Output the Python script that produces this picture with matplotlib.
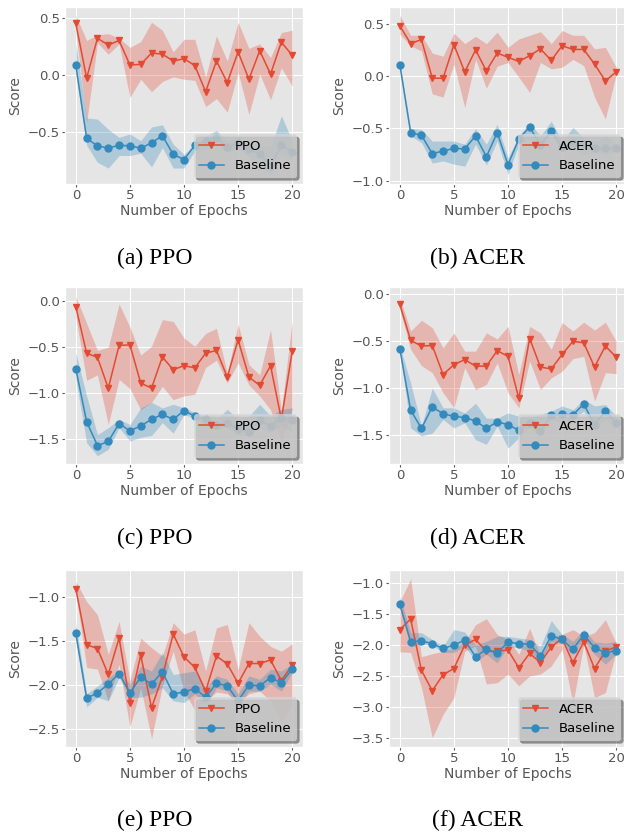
import matplotlib
matplotlib.use('Agg')
import matplotlib.pyplot as plt

plt.style.use('ggplot')

epochs = list(range(21))

# (a) PPO
a_ppo = [0.45, -0.03, 0.32, 0.26, 0.30, 0.085, 0.09, 0.19, 0.18, 0.12, 0.14, 0.08, -0.15, 0.12, -0.07, 0.20, -0.04, 0.21, 0.005, 0.285, 0.17]
a_ppo_hi = [0.52, 0.30, 0.35, 0.36, 0.32, 0.24, 0.29, 0.46, 0.39, 0.20, 0.31, 0.31, -0.02, 0.34, 0.12, 0.46, 0.23, 0.27, 0.15, 0.37, 0.39]
a_ppo_lo = [0.38, -0.42, 0.28, 0.18, 0.27, -0.20, -0.04, -0.15, -0.06, -0.02, -0.04, -0.05, -0.28, -0.21, -0.33, 0.02, -0.35, 0.005, -0.22, 0.06, -0.10]
a_base = [0.085, -0.56, -0.625, -0.645, -0.62, -0.625, -0.645, -0.60, -0.535, -0.70, -0.745, -0.62, -0.58, -0.555, -0.635, -0.60, -0.655, -0.695, -0.80, -0.62, -0.68]
a_base_hi = [0.27, -0.38, -0.39, -0.48, -0.55, -0.52, -0.58, -0.46, -0.44, -0.61, -0.70, -0.61, -0.54, -0.49, -0.58, -0.55, -0.60, -0.61, -0.64, -0.36, -0.58]
a_base_lo = [0.0, -0.62, -0.77, -0.82, -0.71, -0.71, -0.69, -0.81, -0.64, -0.82, -0.82, -0.67, -0.66, -0.61, -0.69, -0.64, -0.73, -0.79, -0.89, -0.70, -0.76]

# (b) ACER
b_acer = [0.48, 0.31, 0.35, -0.02, -0.02, 0.30, 0.04, 0.25, 0.05, 0.22, 0.18, 0.14, 0.195, 0.26, 0.15, 0.29, 0.255, 0.255, 0.115, -0.045, 0.04]
b_acer_hi = [0.58, 0.39, 0.39, 0.22, 0.19, 0.41, 0.31, 0.38, 0.31, 0.42, 0.275, 0.355, 0.39, 0.425, 0.31, 0.435, 0.39, 0.39, 0.26, 0.275, 0.085]
b_acer_lo = [0.40, 0.29, 0.24, -0.17, -0.20, 0.115, -0.30, 0.16, -0.115, 0.095, 0.13, -0.01, -0.155, 0.13, 0.07, 0.085, 0.16, 0.10, -0.20, -0.41, 0.02]
b_base = [0.11, -0.54, -0.565, -0.74, -0.715, -0.69, -0.695, -0.57, -0.77, -0.54, -0.845, -0.60, -0.485, -0.66, -0.52, -0.68, -0.64, -0.65, -0.69, -0.69, -0.69]
b_base_hi = [0.13, -0.50, -0.51, -0.62, -0.62, -0.62, -0.65, -0.50, -0.65, -0.46, -0.78, -0.57, -0.45, -0.57, -0.43, -0.62, -0.49, -0.59, -0.62, -0.57, -0.65]
b_base_lo = [0.09, -0.57, -0.635, -0.83, -0.81, -0.84, -0.86, -0.65, -0.85, -0.62, -0.94, -0.65, -0.60, -0.715, -0.555, -0.715, -0.68, -0.75, -0.73, -0.75, -0.715]

# (c) PPO
c_ppo = [-0.06, -0.565, -0.61, -0.945, -0.48, -0.475, -0.89, -0.945, -0.605, -0.745, -0.70, -0.725, -0.565, -0.535, -0.825, -0.42, -0.825, -0.915, -0.70, -1.285, -0.545]
c_ppo_hi = [0.05, -0.24, -0.535, -0.50, -0.03, -0.28, -0.585, -0.49, -0.20, -0.22, -0.40, -0.49, -0.35, -0.295, -0.78, -0.25, -0.69, -0.80, -0.31, -1.19, -0.21]
c_ppo_lo = [-0.17, -0.86, -0.80, -1.34, -0.85, -0.95, -1.18, -1.10, -0.925, -1.07, -1.03, -1.01, -0.72, -0.64, -0.89, -0.67, -0.91, -1.03, -1.18, -1.54, -1.18]
c_base = [-0.735, -1.31, -1.57, -1.525, -1.33, -1.41, -1.355, -1.285, -1.23, -1.285, -1.19, -1.25, -1.285, -1.345, -1.32, -1.39, -1.42, -1.295, -1.355, -1.265, -1.295]
c_base_hi = [-0.56, -1.03, -1.45, -1.375, -1.285, -1.34, -1.16, -1.10, -1.16, -1.12, -1.16, -1.21, -1.25, -1.285, -1.175, -1.285, -1.25, -1.12, -1.25, -1.175, -1.16]
c_base_lo = [-0.85, -1.54, -1.68, -1.61, -1.375, -1.52, -1.48, -1.46, -1.32, -1.435, -1.23, -1.275, -1.355, -1.39, -1.375, -1.46, -1.46, -1.375, -1.43, -1.355, -1.43]

# (d) ACER
d_acer = [-0.105, -0.49, -0.55, -0.545, -0.855, -0.75, -0.695, -0.765, -0.765, -0.60, -0.66, -1.11, -0.47, -0.775, -0.795, -0.64, -0.50, -0.515, -0.775, -0.55, -0.67]
d_acer_hi = [-0.035, -0.39, -0.275, -0.355, -0.57, -0.41, -0.605, -0.605, -0.41, -0.475, -0.34, -0.855, -0.34, -0.41, -0.585, -0.30, -0.39, -0.295, -0.38, -0.295, -0.50]
d_acer_lo = [-0.16, -0.585, -0.76, -0.835, -1.05, -1.21, -0.78, -1.015, -0.96, -0.73, -1.05, -1.21, -0.71, -1.015, -0.89, -0.82, -0.685, -0.66, -1.14, -0.835, -0.845]
d_base = [-0.58, -1.235, -1.43, -1.20, -1.275, -1.30, -1.315, -1.35, -1.43, -1.36, -1.39, -1.45, -1.37, -1.46, -1.29, -1.28, -1.285, -1.17, -1.39, -1.245, -1.37]
d_base_hi = [-0.55, -0.945, -1.405, -1.00, -1.21, -1.21, -1.265, -1.16, -1.32, -1.32, -1.265, -1.30, -1.32, -1.28, -1.245, -1.19, -1.23, -1.12, -1.19, -1.175, -1.30]
d_base_lo = [-0.61, -1.425, -1.51, -1.48, -1.335, -1.425, -1.37, -1.55, -1.60, -1.405, -1.64, -1.53, -1.42, -1.51, -1.335, -1.37, -1.335, -1.245, -1.44, -1.335, -1.44]

# (e) PPO
e_ppo = [-0.905, -1.54, -1.585, -1.88, -1.465, -2.205, -1.66, -2.26, -1.905, -1.42, -1.68, -1.80, -2.07, -1.67, -1.76, -1.98, -1.755, -1.755, -1.715, -1.95, -1.775]
e_ppo_hi = [-0.82, -1.05, -1.20, -1.65, -1.275, -1.95, -1.465, -1.575, -1.67, -1.29, -1.42, -1.37, -1.84, -1.35, -1.31, -1.82, -1.29, -1.445, -1.56, -1.615, -1.53]
e_ppo_lo = [-0.94, -1.80, -1.82, -2.18, -1.765, -2.48, -2.03, -2.61, -2.01, -1.615, -2.07, -2.285, -2.18, -2.08, -2.10, -2.20, -2.10, -2.07, -2.18, -2.42, -2.22]
e_base = [-1.41, -2.15, -2.09, -1.99, -1.87, -2.09, -1.91, -1.99, -1.85, -2.10, -2.08, -2.04, -2.14, -1.98, -2.01, -2.18, -2.00, -2.01, -1.915, -1.975, -1.82]
e_base_hi = [-1.29, -2.10, -2.01, -1.915, -1.84, -1.99, -1.785, -1.84, -1.63, -1.88, -1.86, -1.84, -2.03, -1.895, -1.935, -2.10, -1.895, -1.935, -1.82, -1.84, -1.765]
e_base_lo = [-1.50, -2.25, -2.14, -2.18, -1.915, -2.14, -2.14, -2.10, -2.03, -2.18, -2.20, -2.10, -2.24, -2.03, -2.07, -2.24, -2.07, -2.07, -1.99, -2.07, -1.86]

# (f) ACER
f_acer = [-1.75, -1.58, -2.41, -2.74, -2.48, -2.38, -2.00, -1.91, -2.10, -2.10, -2.08, -2.37, -2.135, -2.285, -2.03, -1.895, -2.285, -1.95, -2.38, -2.10, -2.03]
f_acer_hi = [-1.30, -0.93, -2.19, -2.14, -2.10, -2.05, -1.95, -1.67, -1.575, -1.83, -1.91, -2.15, -1.73, -2.18, -1.86, -1.83, -1.75, -1.86, -1.80, -1.59, -1.97]
f_acer_lo = [-2.11, -2.12, -2.69, -3.50, -3.12, -2.85, -2.10, -2.02, -2.63, -2.61, -2.47, -2.66, -2.50, -2.47, -2.34, -2.07, -2.95, -1.99, -2.85, -2.77, -2.10]
f_base = [-1.34, -1.95, -1.93, -1.98, -2.055, -2.00, -1.92, -2.19, -2.07, -2.135, -1.95, -1.98, -1.985, -2.18, -1.85, -1.91, -2.07, -1.83, -2.045, -2.125, -2.09]
f_base_hi = [-1.21, -1.80, -1.80, -1.91, -2.02, -1.75, -1.79, -1.995, -1.94, -1.86, -1.86, -1.885, -1.91, -2.02, -1.605, -1.83, -1.94, -1.75, -1.95, -1.97, -1.94]
f_base_lo = [-1.40, -2.03, -1.99, -2.00, -2.12, -2.12, -2.02, -2.26, -2.15, -2.29, -2.02, -2.045, -2.10, -2.26, -1.95, -1.97, -2.15, -1.91, -2.15, -2.31, -2.15]

panels = [
    ('(a) PPO', 'PPO', a_ppo, a_ppo_lo, a_ppo_hi, a_base, a_base_lo, a_base_hi),
    ('(b) ACER', 'ACER', b_acer, b_acer_lo, b_acer_hi, b_base, b_base_lo, b_base_hi),
    ('(c) PPO', 'PPO', c_ppo, c_ppo_lo, c_ppo_hi, c_base, c_base_lo, c_base_hi),
    ('(d) ACER', 'ACER', d_acer, d_acer_lo, d_acer_hi, d_base, d_base_lo, d_base_hi),
    ('(e) PPO', 'PPO', e_ppo, e_ppo_lo, e_ppo_hi, e_base, e_base_lo, e_base_hi),
    ('(f) ACER', 'ACER', f_acer, f_acer_lo, f_acer_hi, f_base, f_base_lo, f_base_hi),
]
ylims = [(-0.96, 0.594), (-1.03, 0.66), (-1.77, 0.155), (-1.81, 0.08), (-2.706, -0.69), (-3.65, -0.786)]

W, H = 624, 836
fig = plt.figure(figsize=(W / 100, H / 100), dpi=100)

# pixel boxes: left, top of each axes; captions at (x, y)
lefts = [65, 389]
tops = [7, 287, 570]
cap_x = [155, 478]
cap_y = [258, 538, 820]
aw, ah = 238, 177

red, blue = '#E24A33', '#348ABD'

for i, (cap, name, m, lo, hi, bm, blo, bhi) in enumerate(panels):
    r, c = divmod(i, 2)
    ax = fig.add_axes([lefts[c] / W, 1 - (tops[r] + ah) / H, aw / W, ah / H])
    ax.fill_between(epochs, lo, hi, color=red, alpha=0.3, linewidth=0)
    ax.plot(epochs, m, color=red, marker='v', markersize=5, linewidth=1.1, label=name)
    ax.fill_between(epochs, blo, bhi, color=blue, alpha=0.3, linewidth=0)
    ax.plot(epochs, bm, color=blue, marker='o', markersize=5, linewidth=1.1, label='Baseline')
    ax.set_xlim(-1, 21)
    ax.set_ylim(*ylims[i])
    ax.set_xticks([0, 5, 10, 15, 20])
    ax.tick_params(labelsize=9.5, length=2, pad=1.5)
    ax.set_xlabel('Number of Epochs', fontsize=10)
    ax.set_ylabel('Score', fontsize=10)
    ax.xaxis.set_label_coords(0.5, -0.115)
    ax.yaxis.set_label_coords(-0.18, 0.5)
    ax.legend(loc='lower right', shadow=True, fontsize=9.5, facecolor='#D2D2D2',
              edgecolor='#D8D8D8', framealpha=0.8, handlelength=1.9)
    fig.text(cap_x[c] / W, 1 - cap_y[r] / H, cap, ha='center', va='center',
             family=['Liberation Serif', 'DejaVu Serif'], fontsize=17, color='black')

fig.savefig('out.png', dpi=100)
